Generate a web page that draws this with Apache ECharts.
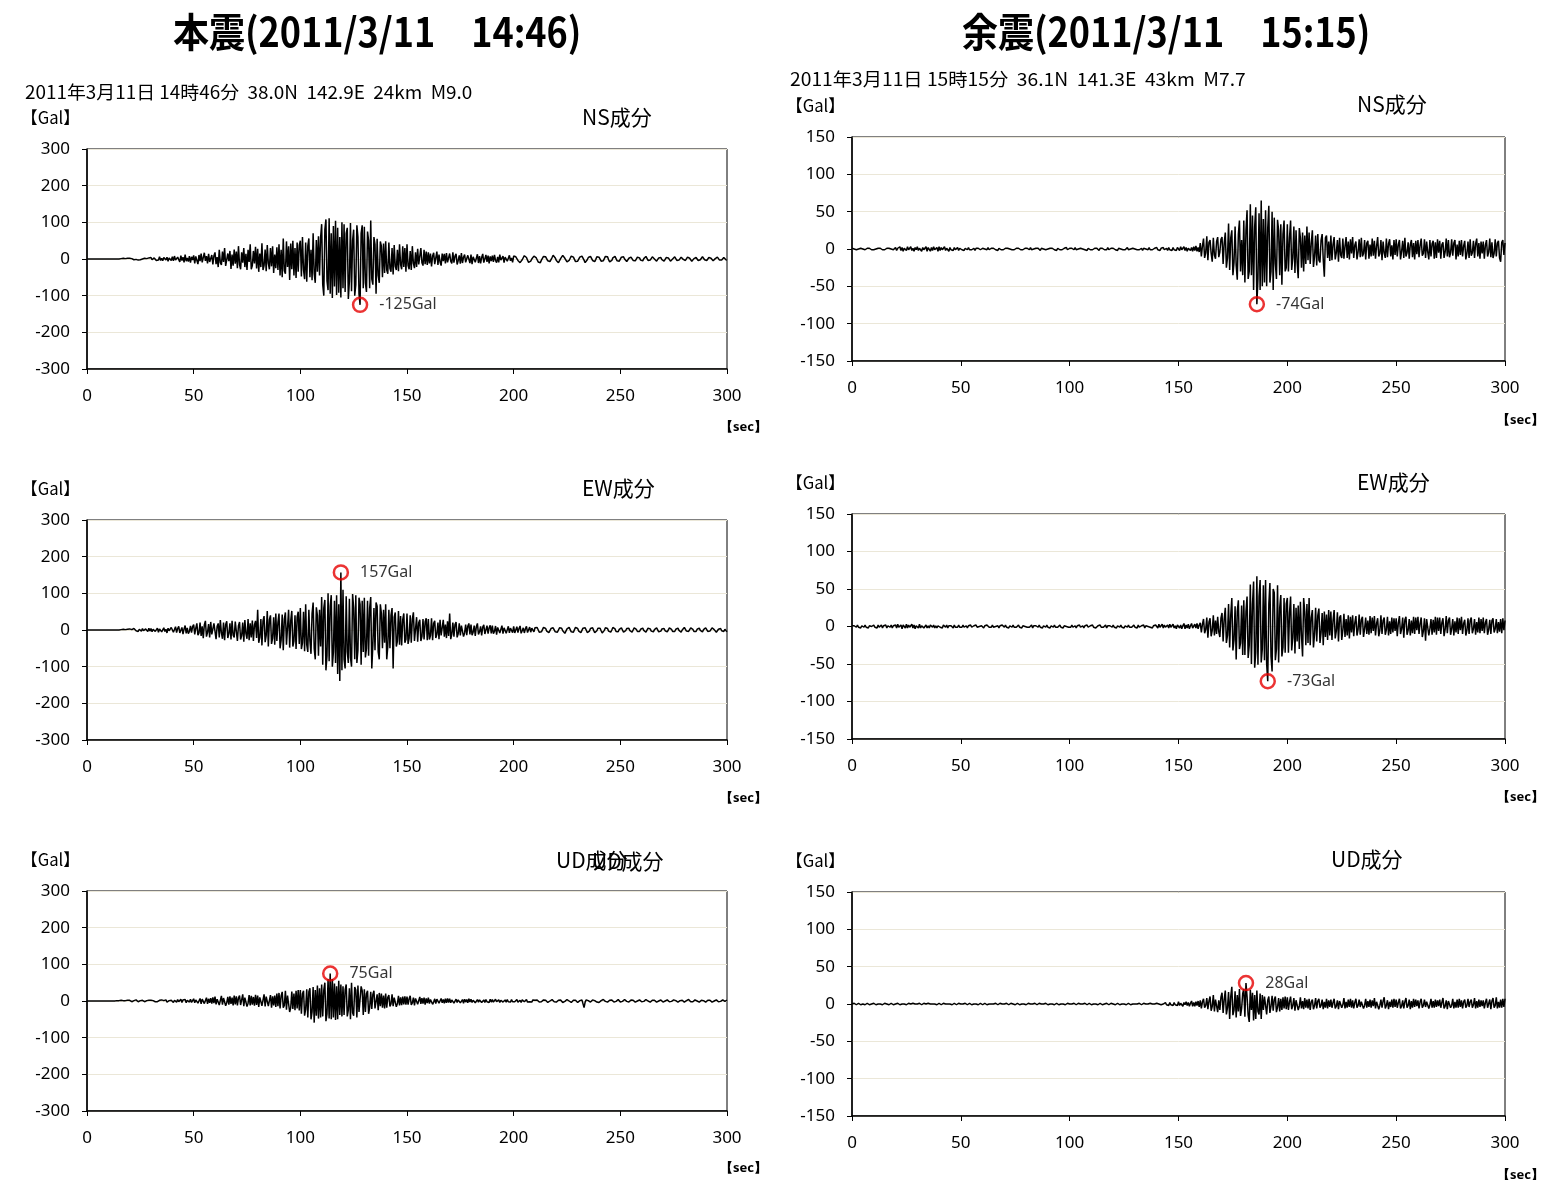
<!DOCTYPE html>
<html>
<head>
<meta charset="utf-8">
<script src="https://cdn.jsdelivr.net/npm/echarts@6/dist/echarts.min.js"></script>
<style>
html,body{margin:0;padding:0;background:#fff;}
#chart{width:1567px;height:1180px;}
</style>
</head>
<body>
<div id="chart"></div>
<script>
// Acceleration records (Gal), two samples per second, t = 0..300 sec.
// Each row holds 10 seconds.
const sampleStep = 0.5;

// 本震 2011/3/11 14:46 — NS component
const mainNS = [
  0,0,0,0,0,0,0,0,0,0,0,0,0,0,0,0,0,0,0,0,
  0,0,0,0,0,0,0,0,0,0,0,0,1,-1,2,-1,1,-2,2,-1,
  2,-3,1,0,-2,3,-1,2,-3,1,-2,3,0,-2,2,-3,1,-1,3,-2,
  4,-2,-5,3,5,-4,1,-3,6,-4,2,-5,4,-1,-3,5,-6,3,4,-4,
  6,-5,8,-3,-7,5,2,-8,9,-4,5,-9,12,-6,3,-7,8,-10,6,-3,
  10,-12,7,3,-14,11,-6,15,-9,-13,17,-5,8,-12,14,-8,-3,11,-15,9,
  18,-14,5,-22,25,-10,-16,20,-8,30,-19,-24,15,-6,22,-27,12,-18,26,-13,
  20,-25,35,-15,-28,18,-10,30,-22,14,-30,25,-8,40,-28,-18,22,-12,33,-26,
  28,-35,15,-22,43,-30,-18,26,-33,38,-12,-28,30,-20,35,-38,12,-25,32,-30,
  40,-45,25,-50,56,-32,-40,48,-22,35,-57,42,-28,50,-45,30,-52,45,-35,38,
  50,-48,60,-30,-55,45,-62,35,56,-50,25,-58,70,-40,-65,52,-35,62,-45,58,
  95,-70,-100,80,108,-60,-85,111,-95,70,-106,90,-75,104,-98,85,-92,60,-105,100,
  -80,95,-90,70,85,-109,-60,98,-88,50,80,-100,-70,92,60,-95,-125,70,92,-80,
  88,-65,-90,75,50,-80,105,-55,-70,60,40,-95,55,-45,-65,48,35,-50,42,-38,
  48,-30,-40,45,-25,-35,30,-42,38,-20,-30,25,-33,40,-15,-28,35,-22,30,-35,
  40,-18,-28,22,-30,35,-12,-25,18,-22,28,-15,-20,30,-10,-18,25,-14,20,-16,
  18,-12,15,-20,8,17,-14,-10,20,-16,12,-8,-18,15,-6,14,-12,16,-9,-13,
  15,-6,-12,18,-10,8,14,-15,-4,10,-13,16,-11,5,12,-9,-14,10,7,-11,
  12,-14,6,10,-9,-5,13,-11,8,-12,4,14,-10,-6,11,-8,9,-12,7,-6,
  9,-8,11,-4,-10,6,-9,12,-3,-7,8,-10,5,9,-6,-8,10,-5,3,-9,
  8,10,6,2,-4,-8,-10,-7,-2,3,9,7,4,-3,-9,-11,-6,0,5,8,
  10,4,-2,-8,-6,-10,-3,2,7,9,6,1,-5,-9,-7,-2,4,10,8,3,
  -4,-9,-10,-5,1,6,10,7,2,-3,-8,-9,-4,2,8,10,5,-1,-7,-10,
  -6,-1,5,9,8,3,-3,-10,-8,-2,4,9,7,2,-4,-9,-7,-1,6,8,
  5,0,-6,-9,-5,1,7,10,6,-2,-8,-9,-4,3,8,7,2,-5,-8,-6,
  -1,5,7,6,0,-5,-7,-4,2,6,5,1,-4,-7,-5,0,5,7,3,-3,
  -6,-5,1,6,7,2,-4,-7,-3,2,6,5,0,-5,-6,-2,3,6,4,-2,
  -5,-6,-1,4,6,3,-2,-6,-5,0,5,6,2,-4,-6,-3,2,5,4,-1,
  -5,-4,1,5,6,2,-3,-6,-4,1,5,4,0,-4,-6,-2,3,6,3,-2,
  -5,-4,0,4,5,2,-3,-5,-3,1,4,5,1,-3,-5,-3,1,4,3,-2,
  -3
];

// 本震 — EW component
const mainEW = [
  0,0,0,0,0,0,0,0,0,0,0,0,0,0,0,0,0,0,0,0,
  0,0,0,0,0,0,0,0,0,0,0,0,1,-1,2,-2,1,-1,2,-2,
  3,-2,1,-3,4,-1,-2,3,-4,2,1,-3,4,-2,-3,3,2,-4,5,-3,
  4,-5,2,6,-4,-2,5,-6,3,7,-5,-3,6,-4,2,-8,5,-2,-6,7,
  8,-6,-3,9,-7,4,10,-8,-5,7,-11,3,12,-9,6,-10,-4,11,-7,9,
  15,-12,5,18,-14,-8,20,-16,10,-22,14,25,-18,-6,16,-20,22,-12,-15,18,
  22,-25,10,18,-20,27,-8,-24,20,-28,15,24,-22,-10,18,-26,25,-14,-20,23,
  25,-30,12,22,-26,-15,20,-32,27,-10,-24,30,-28,18,-20,26,-30,14,25,-22,
  55,-35,-20,30,-42,25,38,-33,-15,52,-45,28,40,-38,-22,35,-40,45,-30,20,
  45,-50,-28,42,-55,30,48,-40,-35,55,-48,25,52,-45,-30,40,-52,35,50,-38,
  60,-52,-35,50,-58,70,-40,-60,55,-30,-65,45,75,-50,-80,62,40,-70,55,-45,
  90,-95,60,82,-110,-70,100,-85,65,95,-100,-60,80,-90,95,-120,70,-139,157,-110,
  110,-80,-105,92,-60,-90,85,-75,-100,98,60,-80,95,-90,-55,88,70,-95,80,-60,
  88,-75,-50,80,-70,60,90,-105,-40,60,-55,75,65,-60,-80,70,45,-50,55,-35,
  70,-80,-45,55,-50,40,60,-105,35,48,-45,-30,52,-40,38,-42,28,45,-35,-25,
  45,-38,-22,40,-35,30,48,-30,-25,35,-32,20,28,-30,-18,30,-26,22,32,-28,
  30,-26,-15,32,-28,18,25,-22,-12,20,-25,28,-15,-20,28,-18,15,-22,24,-16,
  45,-25,-12,20,-18,15,22,-20,-10,18,-15,12,16,-18,-8,15,-14,10,18,-12,
  15,-14,-6,12,-16,9,18,-12,-5,10,-15,8,14,-11,-7,12,-10,6,13,-9,
  12,-10,-4,11,-13,7,9,-8,-3,12,-10,6,7,-9,-5,10,-8,5,9,-7,
  10,-8,-3,9,-7,4,11,-9,-2,6,-8,3,10,-7,-4,8,-6,5,9,-5,
  6,9,7,2,-6,-9,-5,-2,7,8,4,-3,-8,-7,-2,4,9,6,1,-5,
  -8,-6,0,6,9,5,-2,-7,-9,-3,3,8,7,2,-5,-9,-6,1,7,9,
  4,-3,-8,-7,-1,5,9,6,0,-7,-8,-3,4,8,6,-1,-7,-8,-2,5,
  8,5,-2,-8,-7,-1,6,9,4,-3,-8,-6,0,7,8,3,-4,-8,-5,2,
  7,6,0,-6,-7,-2,4,8,5,-2,-7,-6,0,6,7,2,-4,-7,-4,2,
  6,5,-1,-6,-6,-1,5,7,3,-3,-7,-5,1,6,6,1,-5,-7,-3,3,
  7,4,-2,-7,-5,0,6,6,2,-4,-7,-4,2,7,5,-1,-6,-6,0,5,
  7,3,-3,-7,-4,1,6,7,2,-4,-6,-4,2,6,5,-1,-6,-5,1,6,
  6,2,-4,-6,-3,2,6,6,1,-4,-6,-3,2,5,4,-2,-6,-4,2,5,
  -5
];

// 本震 — UD component
const mainUD = [
  0,0,0,0,0,0,0,0,0,0,0,0,0,0,0,0,0,0,0,0,
  0,0,0,0,0,0,0,0,1,-1,1,-1,2,-1,1,-2,1,-1,2,-1,
  2,-1,-2,2,1,-2,3,-1,-2,2,1,-3,2,-1,-2,3,1,-2,2,-1,
  2,-3,1,2,-2,3,-2,-1,2,-3,3,-2,1,-2,3,-3,2,1,-2,2,
  3,-4,2,3,-3,4,-2,-3,5,-4,3,-2,4,-5,2,4,-3,5,-4,-2,
  6,-5,3,8,-6,-4,7,-8,5,10,-7,-3,9,-8,6,-5,8,-7,10,-6,
  12,-9,5,10,-11,-6,14,-10,8,12,-13,-5,11,-10,13,-8,9,-12,15,-9,
  13,-12,8,15,-11,-7,18,-14,9,12,-15,-6,16,-12,14,-10,11,-13,17,-11,
  15,-16,10,14,-13,-8,18,-15,12,17,-14,-9,16,-18,13,-12,15,-16,20,-14,
  22,-20,14,25,-18,-12,28,-24,15,20,-30,-18,26,-22,20,-25,28,-20,30,-26,
  30,-35,20,28,-40,-22,32,-45,25,35,-50,-30,38,-59,30,-40,42,-48,35,-45,
  45,-42,30,50,-55,-35,60,-48,75,-50,60,-45,48,-52,40,-50,55,-38,45,-42,
  40,-38,30,45,-42,-25,35,-50,50,-32,-40,38,30,-45,42,-30,-35,40,28,-38,
  32,-30,20,28,-35,-18,25,-22,18,28,-20,-15,18,-25,22,-14,20,-18,15,-20,
  20,-18,10,16,-15,-8,18,-14,9,12,-16,-7,14,-12,10,-11,12,-9,13,-10,
  12,-10,6,14,-11,-5,9,-12,7,10,-9,-4,11,-8,8,-7,9,-10,7,-6,
  9,-7,4,8,-9,-3,6,-7,5,8,-6,-2,7,-5,4,-6,6,-5,7,-4,
  6,-5,3,7,-6,-2,5,-4,3,6,-5,-2,4,-6,5,-3,4,-5,6,-3,
  5,-4,2,3,-5,-1,4,-3,3,5,-4,-1,3,-4,4,-2,3,-4,5,-3,
  4,-3,2,5,-2,-1,3,-4,2,4,-3,-1,3,-3,4,-2,2,-3,4,-2,
  3,-2,1,4,-3,-1,2,-4,3,3,-2,-1,4,-3,2,-2,1,-3,3,-2,
  2,4,3,1,-3,-4,-2,0,3,4,2,-1,-4,-3,0,3,4,1,-2,-4,
  -3,0,2,5,3,1,-4,-3,-1,2,4,3,0,-3,-4,-1,2,4,2,-2,
  -4,-2,1,4,3,-1,-18,-3,3,4,1,-4,-3,0,3,4,1,-2,-3,-1,
  -4,-2,1,3,4,2,-1,-3,-3,0,2,4,3,0,-3,-4,-1,2,4,1,
  -3,-3,-1,2,4,2,-1,-3,-3,0,3,4,2,-1,-3,-3,0,3,3,1,
  -2,-3,-1,2,4,2,0,-3,-3,-1,2,3,2,-1,-3,-2,0,3,3,0,
  -3,-3,0,3,3,1,-2,-3,-1,1,3,3,1,-2,-3,-2,1,3,2,-1,
  -3,-2,1,3,4,1,-2,-3,-2,1,3,3,0,-2,-3,-1,2,3,1,-2,
  -3,-1,2,3,2,-1,-3,-2,0,3,3,1,-2,-3,-1,1,3,2,-1,-2,
  2
];

// 余震 2011/3/11 15:15 — NS component
const afterNS = [
  1,-1,0,1,-1,1,0,-1,1,-1,0,1,-1,0,1,-1,1,0,-1,1,
  -1,1,0,-1,1,-1,1,0,-1,1,-1,0,1,-1,1,-1,0,1,-1,1,
  2,-2,1,-1,3,-2,2,-3,1,2,-2,3,-1,-2,3,-2,1,-3,2,-1,
  3,-2,1,3,-3,2,-1,-2,3,-3,2,1,-3,2,-2,3,-1,-2,2,-3,
  3,-2,2,-1,-2,3,-2,1,2,-3,2,-1,1,-2,2,-1,-1,2,-2,1,
  2,-1,1,-2,1,0,-1,2,-1,1,-1,0,1,-2,1,-1,1,0,-1,1,
  1,-1,0,1,-1,2,-1,0,1,-1,1,0,-1,1,-2,1,0,-1,1,-1,
  0,1,-1,1,-1,0,2,-1,1,-1,0,1,-1,1,0,-1,1,-1,0,1,
  -1,1,0,-1,2,-1,1,0,-1,1,-1,1,0,-2,1,-1,0,1,-1,1,
  0,-1,1,-1,1,0,-1,1,-2,1,0,-1,1,-1,0,1,-1,2,-1,0,
  1,-1,1,0,-1,2,-1,1,0,-1,1,-1,0,1,-1,1,-2,1,0,-1,
  1,-1,0,1,-1,1,0,-2,1,-1,1,0,-1,1,-1,2,-1,0,1,-1,
  1,0,-1,1,-2,1,-1,0,1,-1,1,-1,0,2,-1,1,0,-1,1,-1,
  0,1,-1,1,-1,0,1,-2,1,-1,0,1,-1,2,-1,1,-1,0,1,-1,
  2,-1,1,-2,1,-1,2,-1,0,1,-2,2,-1,1,-2,2,-1,1,-2,2,
  2,-2,3,-1,-2,3,-2,2,-3,1,3,-2,2,-3,3,-2,4,-3,2,-4,
  8,-10,4,14,-12,-5,17,-15,9,12,-6,-17,15,-8,-13,10,16,-11,-4,13,
  16,-20,8,22,-25,-12,34,-28,15,25,-35,-18,30,-22,-41,20,38,-30,12,-35,
  38,-45,25,52,-40,-30,60,-35,45,-55,30,56,-74,-40,48,-55,65,-50,40,-45,
  52,-50,28,58,-45,-30,50,-55,42,-20,-40,39,25,-35,33,-48,20,38,-30,-25,
  33,-30,15,38,-28,-12,30,-32,25,-18,-39,28,15,-25,22,-30,18,-20,30,-15,
  22,-20,8,25,-24,-10,18,-22,20,-15,-18,12,20,-14,-37,15,18,-12,10,-16,
  18,-15,6,16,-14,-5,12,-17,15,-8,-12,14,-13,4,16,-12,10,-14,13,-6,
  16,-12,5,10,-14,-4,13,-11,15,-10,-6,12,-14,8,11,-13,6,-10,14,-9,
  11,-13,4,16,-10,-6,12,-15,10,-5,-12,14,-11,7,13,-10,5,-14,12,-8,
  13,-10,6,12,-14,-3,11,-12,15,-10,-5,9,-13,6,12,-11,8,-14,11,-7,
  12,-11,5,14,-9,-6,13,-12,10,-4,-14,12,-10,7,11,-13,9,-12,13,-5,
  11,-13,6,9,-12,-4,14,-10,12,-11,-5,13,-9,8,12,-14,6,-10,11,-8,
  12,-10,4,11,-14,-6,10,-12,13,-9,-5,11,-12,7,14,-10,8,-13,10,-6,
  10,-13,5,12,-10,-4,14,-11,9,-12,-6,13,-10,8,11,-12,-17,9,12,-8,
  8
];

// 余震 — EW component
const afterEW = [
  1,-1,1,0,-1,2,-1,1,-2,1,0,-1,2,-1,1,-2,1,-1,0,1,
  2,-1,1,-2,2,-1,0,2,-2,1,-1,2,-2,1,0,-1,2,-2,1,-1,
  2,-2,3,-1,-2,2,-3,2,1,-2,3,-2,2,-1,-2,3,-2,2,-3,1,
  2,-2,3,-2,1,2,-2,-1,2,-2,1,-2,2,0,-1,2,-2,1,-2,1,
  2,-1,1,-2,2,0,-1,2,-2,1,-1,1,0,-2,2,-1,1,-1,2,-1,
  1,-1,2,-1,0,1,-2,1,-1,2,-1,0,1,-1,2,-1,1,0,-2,1,
  1,-2,1,-1,2,0,-1,1,-1,2,-1,1,0,-1,1,-2,1,-1,2,0,
  -1,2,-1,1,-2,1,0,-1,2,-1,1,-1,0,2,-1,1,-2,1,-1,0,
  2,-1,1,-1,0,2,-2,1,-1,1,0,-1,2,-1,1,-2,1,0,-1,2,
  -1,1,-2,1,0,-1,2,-1,1,-1,0,2,-1,1,-2,1,-1,0,2,-1,
  1,-1,2,-1,0,1,-2,1,-1,2,-1,0,1,-2,1,-1,2,-1,0,1,
  -1,2,-1,1,-2,0,1,-1,2,-1,1,-1,0,2,-2,1,-1,1,0,-1,
  2,-1,1,-2,1,0,-1,2,-1,1,-2,1,0,-1,2,-1,1,-1,0,2,
  -1,1,-2,2,-1,0,1,-1,2,-2,1,-1,0,2,-1,1,-2,1,-1,2,
  2,-2,3,-1,-2,3,-2,2,-1,-3,2,-2,3,-1,-2,3,-2,1,-3,2,
  3,-2,2,-3,1,4,-3,2,-2,3,-3,1,4,-2,-3,3,-2,4,-3,2,
  5,-8,3,10,-9,-4,12,-15,6,11,-13,-5,15,-12,8,-10,13,-7,-14,11,
  18,-20,10,25,-22,-12,30,-28,15,38,-32,-18,27,-44,20,35,-30,-22,28,-38,
  35,-38,20,40,-42,-25,56,-50,30,60,-55,-35,67,-51,40,62,-48,-30,55,-45,
  62,-50,-73,30,58,-40,-60,50,45,-45,-30,55,-48,25,42,-40,-28,38,-35,30,
  38,-35,18,40,-32,-15,30,-36,25,-20,28,-30,33,-12,-40,38,20,-25,30,-22,
  38,-25,12,22,-28,-10,25,-20,15,24,-22,-8,18,-25,20,-14,16,-18,22,-12,
  20,-18,8,22,-16,-6,19,-20,12,15,-18,-5,17,-14,10,-12,15,-16,13,-8,
  15,-13,5,14,-12,-4,16,-11,9,13,-14,-3,12,-10,8,-11,14,-9,12,-6,
  14,-12,4,11,-13,-5,15,-10,8,12,-11,-4,13,-12,7,-10,12,-8,11,-6,
  11,-13,5,14,-10,-3,12,-15,9,13,-11,-5,10,-12,8,-9,13,-10,12,-5,
  13,-10,4,12,-14,-6,11,-19,10,12,-12,-3,10,-11,9,-8,13,-11,12,-6,
  12,-10,5,11,-13,-4,14,-9,8,12,-11,-3,10,-12,7,-8,12,-10,11,-5,
  13,-10,4,9,-12,-5,11,-10,8,12,-9,-3,10,-11,6,-8,12,-9,10,-6,
  12,-9,5,10,-11,-4,9,-10,8,11,-8,-3,10,-9,6,-7,10,-9,11,-5,
  8
];

// 余震 — UD component
const afterUD = [
  0,0,1,0,-1,0,1,0,-1,0,0,1,-1,0,1,0,-1,1,0,-1,
  1,0,-1,1,0,-1,0,1,-1,0,1,-1,0,1,-1,0,1,0,-1,1,
  0,-1,1,0,-1,1,0,-1,0,1,-1,0,1,-1,0,0,1,-1,0,1,
  0,-1,1,0,-1,0,1,-1,0,0,1,-1,0,1,0,-1,0,1,-1,0,
  1,0,-1,0,1,-1,0,1,0,-1,0,1,-1,0,1,0,-1,0,1,-1,
  0,1,0,-1,1,0,-1,0,1,0,-1,1,0,-1,0,1,-1,0,1,0,
  -1,0,1,0,-1,1,0,-1,0,1,0,-1,1,0,-1,0,1,-1,0,1,
  0,-1,1,0,-1,0,1,-1,0,1,-1,0,1,0,-1,1,0,-1,0,1,
  -1,0,1,-1,0,1,0,-1,1,0,-1,0,1,-1,0,1,0,-1,1,0,
  -1,1,0,-1,0,1,-1,0,1,0,-1,1,0,-1,0,1,-1,0,1,-1,
  0,1,0,-1,1,0,-1,0,1,-1,0,1,0,-1,1,0,-1,0,1,0,
  -1,1,0,-1,0,1,-1,0,1,0,-1,1,0,-1,1,0,-1,0,1,-1,
  0,1,-1,0,1,0,-1,1,0,-1,0,1,-1,0,1,0,-1,1,0,-1,
  0,1,0,-1,1,0,-1,0,1,-1,0,1,0,-1,1,-1,0,1,0,-1,
  1,-1,0,1,-1,1,0,-1,2,-1,1,-2,2,-1,1,-2,2,-1,1,-2,
  3,-2,1,2,-3,2,-1,3,-2,2,-3,1,4,-3,2,-3,3,-2,4,-4,
  5,-6,3,7,-5,-2,8,-7,4,10,-9,-3,12,-10,6,8,-11,5,-8,9,
  15,-12,6,18,-14,-5,16,-20,10,23,-15,-8,17,-18,12,-10,20,-16,-6,14,
  20,-17,28,10,-15,-24,19,-8,15,-22,12,-20,18,-10,-14,14,-20,12,-8,10,
  12,-14,5,10,-12,-3,11,-9,6,10,-11,-4,8,-10,7,-8,9,-6,10,-7,
  9,-8,3,10,-7,-2,8,-9,5,7,-8,-3,9,-6,4,-7,8,-5,6,-6,
  7,-8,3,6,-7,-2,8,-6,4,7,-5,-2,6,-7,3,-5,7,-6,5,-4,
  6,-5,2,7,-6,-3,5,-7,4,6,-5,-1,8,-6,3,-5,6,-4,7,-5,
  5,-6,2,7,-5,-2,6,-4,3,5,-6,-2,7,-5,4,-4,6,-5,5,-3,
  8,-6,3,5,-7,-2,6,-5,4,9,-6,-2,5,-7,3,-4,6,-5,7,-4,
  6,-5,2,7,-6,-3,5,-6,3,8,-5,-2,6,-7,4,-5,7,-4,6,-3,
  5,-6,3,7,-5,-2,6,-4,3,5,-6,-1,7,-5,4,-5,6,-4,5,-3,
  6,-5,2,8,-6,-3,5,-7,4,6,-5,-2,7,-6,3,-5,6,-5,7,-4,
  5,-6,3,6,-5,-2,7,-4,3,6,-5,-1,8,-6,4,-5,6,-4,5,-3,
  5,-6,2,7,-5,-3,6,-7,4,8,-5,-2,9,-6,3,-5,6,-5,7,-4,
  7
];

// Peak accelerations marked on each record: [sec, Gal]
const peakMainNS = [128, -125];
const peakMainEW = [119, 157];
const peakMainUD = [114, 75];
const peakAfterNS = [186, -74];
const peakAfterEW = [191, -73];
const peakAfterUD = [181, 28];

// Axis ranges and tick steps
const timeTicks = { min: 0, max: 300, interval: 50 };
const mainTicks = { min: -300, max: 300, interval: 100 };
const afterTicks = { min: -150, max: 150, interval: 50 };

const panels = [
  { data: mainNS, peak: peakMainNS, ticks: mainTicks, left: 87, top: 149, width: 640, height: 220 },
  { data: mainEW, peak: peakMainEW, ticks: mainTicks, left: 87, top: 520, width: 640, height: 220 },
  { data: mainUD, peak: peakMainUD, ticks: mainTicks, left: 87, top: 891, width: 640, height: 220 },
  { data: afterNS, peak: peakAfterNS, ticks: afterTicks, left: 852, top: 137, width: 653, height: 224 },
  { data: afterEW, peak: peakAfterEW, ticks: afterTicks, left: 852, top: 514, width: 653, height: 225 },
  { data: afterUD, peak: peakAfterUD, ticks: afterTicks, left: 852, top: 892, width: 653, height: 224 }
];

const uiFont = '"Noto Sans", "Open Sans", sans-serif';
const jpFont = '"Noto Sans CJK JP", "Noto Sans", sans-serif';

const grids = [], xAxes = [], yAxes = [], series = [];
panels.forEach((p, i) => {
  grids.push({
    left: p.left, top: p.top, width: p.width, height: p.height,
    show: true, borderColor: '#000', borderWidth: 1, backgroundColor: 'transparent'
  });
  xAxes.push({
    gridIndex: i, type: 'value',
    min: timeTicks.min, max: timeTicks.max, interval: timeTicks.interval,
    axisLine: { show: true, onZero: false, lineStyle: { color: '#000', width: 1.5 } },
    axisTick: { show: true, length: 5, lineStyle: { color: '#000', width: 1 } },
    axisLabel: { color: '#000', fontSize: 17, margin: 19, fontFamily: uiFont },
    splitLine: { show: false }
  });
  yAxes.push({
    gridIndex: i, type: 'value',
    min: p.ticks.min, max: p.ticks.max, interval: p.ticks.interval,
    axisLine: { show: true, onZero: false, lineStyle: { color: '#000', width: 1.5 } },
    axisTick: { show: true, length: 5, lineStyle: { color: '#000', width: 1 } },
    axisLabel: { color: '#000', fontSize: 17, margin: 17, fontFamily: uiFont },
    splitLine: { show: true, lineStyle: { color: '#ebe7d8', width: 1 } }
  });
  series.push({
    type: 'line', xAxisIndex: i, yAxisIndex: i,
    data: p.data.map((v, k) => [k * sampleStep, v]),
    showSymbol: false, symbol: 'none', animation: false,
    lineStyle: { color: '#000', width: 1.5 },
    z: 3
  });
  series.push({
    type: 'scatter', xAxisIndex: i, yAxisIndex: i,
    data: [p.peak], symbol: 'circle', symbolSize: 14, animation: false,
    itemStyle: { color: 'rgba(0,0,0,0)', borderColor: '#e60000', borderWidth: 2.5 },
    label: {
      show: true, position: 'right', distance: 11,
      formatter: d => d.value[1] + 'Gal',
      color: '#000', fontSize: 16, fontFamily: uiFont
    },
    z: 5
  });
});

// header and caption texts
function txt(text, x, y, size, opts) {
  opts = opts || {};
  return {
    type: 'text', x: x, y: y, scaleX: opts.scaleX || 1, z: 10,
    style: {
      text: text, x: 0, y: 0,
      fontSize: size, fontFamily: opts.family || jpFont,
      fontWeight: opts.weight || 'normal',
      fill: '#000',
      textVerticalAlign: 'middle', verticalAlign: 'middle', textAlign: 'left', align: 'left'
    }
  };
}

const graphics = [
  txt('本震(2011/3/11\u300014:46)', 173, 32, 40, { weight: 'bold', scaleX: 0.9 }),
  txt('余震(2011/3/11\u300015:15)', 962, 32, 40, { weight: 'bold', scaleX: 0.9 }),
  txt('2011年3月11日 14時46分  38.0N  142.9E  24km  M9.0', 25, 92, 18, { scaleX: 1.05 }),
  txt('2011年3月11日 15時15分  36.1N  141.3E  43km  M7.7', 790, 79, 18, { scaleX: 1.07 }),

  txt('【Gal】', 21, 118, 17, { scaleX: 0.98 }),
  txt('【Gal】', 21, 489, 17, { scaleX: 0.98 }),
  txt('【Gal】', 21, 860, 17, { scaleX: 0.98 }),
  txt('【Gal】', 786, 106, 17, { scaleX: 0.98 }),
  txt('【Gal】', 786, 483, 17, { scaleX: 0.98 }),
  txt('【Gal】', 786, 861, 17, { scaleX: 0.98 }),

  txt('NS成分', 582, 117, 21),
  txt('EW成分', 582, 488, 21),
  txt('UD成分', 556, 860, 21),
  txt('UD成分', 592, 861, 21),
  txt('NS成分', 1357, 104, 21),
  txt('EW成分', 1357, 482, 21),
  txt('UD成分', 1331, 859, 21),

  txt('【sec】', 720, 427, 13, { weight: 'bold', family: uiFont }),
  txt('【sec】', 720, 798, 13, { weight: 'bold', family: uiFont }),
  txt('【sec】', 720, 1168, 13, { weight: 'bold', family: uiFont }),
  txt('【sec】', 1497, 420, 13, { weight: 'bold', family: uiFont }),
  txt('【sec】', 1497, 797, 13, { weight: 'bold', family: uiFont }),
  txt('【sec】', 1497, 1175, 13, { weight: 'bold', family: uiFont })
];

const chart = echarts.init(document.getElementById('chart'), null, { renderer: 'canvas' });
chart.setOption({
  backgroundColor: '#fff',
  animation: false,
  grid: grids,
  xAxis: xAxes,
  yAxis: yAxes,
  series: series,
  graphic: graphics
});
</script>
</body>
</html>
